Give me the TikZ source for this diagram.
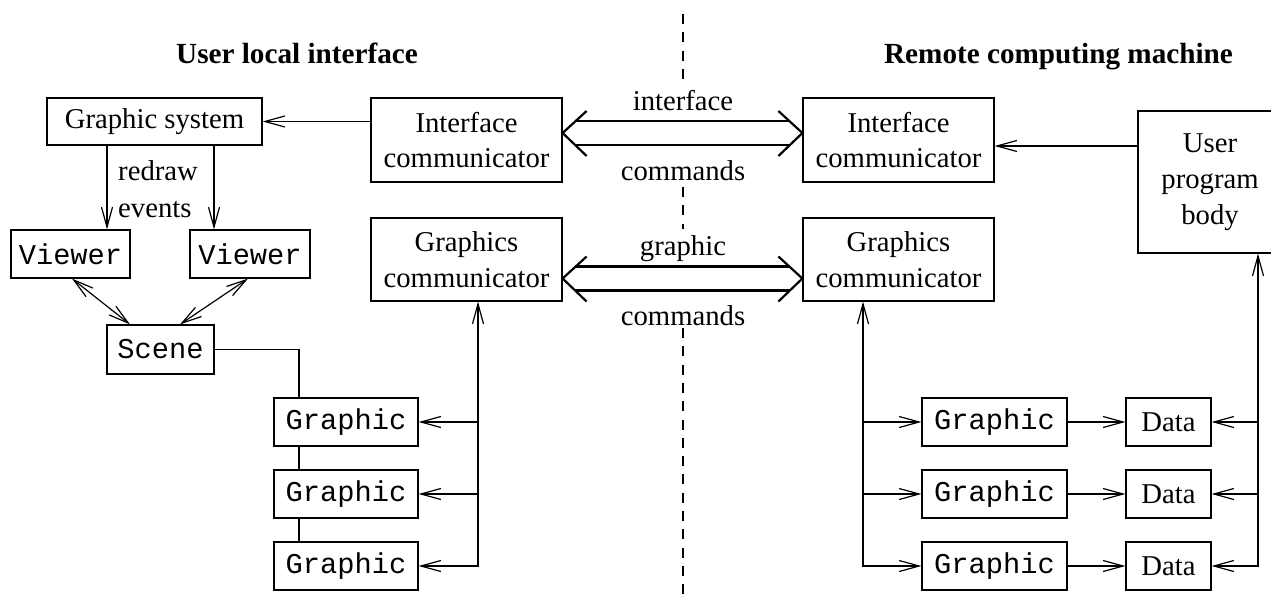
\documentclass[tikz,border=0pt]{standalone}
\usepackage{fontspec}
\setmainfont{Liberation Serif}
\setmonofont{Liberation Mono}
\usetikzlibrary{arrows.meta}
\begin{document}
\begin{tikzpicture}[x=1pt,y=-1pt,
  every node/.style={font=\fontsize{28.7pt}{35.7pt}\selectfont, inner sep=0pt},
  box/.style={draw, line width=1.2pt, align=center, minimum height=48pt},
  mono/.style={font=\fontsize{28.7pt}{35.7pt}\selectfont\ttfamily},
  ln/.style={line width=1.2pt},
  arr/.style={ln, -{Straight Barb[length=20pt,width=11pt]}},
  barr/.style={ln, {Straight Barb[length=20pt,width=11pt]}-{Straight Barb[length=20pt,width=11pt]}},
  dbl/.style={line width=2.2pt},
  sep/.style={line width=2pt, dash pattern=on 10pt off 8.3pt},
  lbl/.style={anchor=base},
  title/.style={anchor=base, font=\fontsize{29.2pt}{34pt}\selectfont\bfseries}
]
\useasboundingbox (0,0) rectangle (1271,597);

% titles
\node[title] (t1) at (297,63) {User local interface};
\node[title] (t2) at (1058.5,63) {Remote computing machine};

% separator
\coordinate (s0) at (683,14);
\coordinate (s1) at (683,84);
\coordinate (s2) at (683,187);
\coordinate (s3) at (683,229);
\coordinate (s4) at (683,328);
\coordinate (s5) at (683,597);
\draw[sep] (s0) -- (s1);
\draw[sep] (s2) -- (s3);
\draw[sep] (s4) -- (s5);

% boxes
\node[box, minimum width=215pt, minimum height=47pt] (gs) at (154.5,121.5) {\raisebox{-2pt}{Graphic system}};
\node[box, minimum width=191pt, minimum height=84pt] (ic1) at (466.5,140) {Interface\\communicator};
\node[box, minimum width=191pt, minimum height=83pt] (gc1) at (466.5,259.5) {Graphics\\communicator};
\node[box, minimum width=191pt, minimum height=84pt] (ic2) at (898.5,140) {Interface\\communicator};
\node[box, minimum width=191pt, minimum height=83pt] (gc2) at (898.5,259.5) {Graphics\\communicator};
\node[box, minimum width=144pt, minimum height=142pt] (upb) at (1210,182) {User\\program\\body};

\node[box, mono, minimum width=119pt] (v1) at (70.5,254) {Viewer};
\node[box, mono, minimum width=120pt] (v2) at (250,254) {Viewer};
\node[box, mono, minimum width=107pt, minimum height=49pt] (sc) at (160.5,349.5) {Scene};

\node[box, mono, minimum width=144pt] (gl1) at (346,422) {Graphic};
\node[box, mono, minimum width=144pt] (gl2) at (346,494) {Graphic};
\node[box, mono, minimum width=144pt] (gl3) at (346,566) {Graphic};

\node[box, mono, minimum width=145pt] (gr1) at (994.5,422) {Graphic};
\node[box, mono, minimum width=145pt] (gr2) at (994.5,494) {Graphic};
\node[box, mono, minimum width=145pt] (gr3) at (994.5,566) {Graphic};

\node[box, minimum width=85pt] (d1) at (1168.5,422) {Data};
\node[box, minimum width=85pt] (d2) at (1168.5,494) {Data};
\node[box, minimum width=85pt] (d3) at (1168.5,566) {Data};

% labels
\node[lbl] (li) at (683,110) {interface};
\node[lbl] (lc1) at (683,180) {commands};
\node[lbl] (lg) at (683,255) {graphic};
\node[lbl] (lc2) at (683,325) {commands};
\node[anchor=base west] (rd) at (118,180) {redraw};
\node[anchor=base west] (ev) at (118,217) {events};

% double arrows
\path ([yshift=7pt]ic1.east) coordinate (A1) ([yshift=7pt]ic2.west) coordinate (B1);
\path ([yshift=-19pt]gc1.east) coordinate (A2) ([yshift=-19pt]gc2.west) coordinate (B2);
\foreach \a/\b in {A1/B1, A2/B2}{
  \draw[dbl] ([shift={(24,-22)}]\a) -- (\a) -- ([shift={(24,23)}]\a);
  \draw[dbl] ([shift={(-24,-22)}]\b) -- (\b) -- ([shift={(-24,23)}]\b);
  \draw[dbl] ([shift={(12.5,-12)}]\a) -- ([shift={(-12.5,-12)}]\b);
  \draw[dbl] ([shift={(12.5,12)}]\a) -- ([shift={(-12.5,12)}]\b);
}

% left side connectors
\draw[arr] (ic1.west |- gs.east) -- (gs.east);
\coordinate (ax1) at (107,0);
\coordinate (ax2) at (214,0);
\draw[arr] (gs.south -| ax1) -- (v1.north -| ax1);
\draw[arr] (gs.south -| ax2) -- (v2.north -| ax2);
\draw[barr] ([xshift=1.5pt]v1.south) -- ([xshift=-30.5pt]sc.north);
\draw[barr] ([xshift=-2pt]v2.south) -- ([xshift=19.5pt]sc.north);
\draw[ln] (sc.east) -| ([xshift=-47pt]gl1.north);
\draw[ln] ([xshift=-47pt]gl1.south) -- ([xshift=-47pt]gl2.north);
\draw[ln] ([xshift=-47pt]gl2.south) -- ([xshift=-47pt]gl3.north);
\coordinate (bl) at (478,0);
\draw[barr] (gc1.south -| bl) -- (gl3.east -| bl) -- (gl3.east);
\draw[arr] (gl1.east -| bl) -- (gl1.east);
\draw[arr] (gl2.east -| bl) -- (gl2.east);

% right side connectors
\path ([yshift=36pt]upb.west) coordinate (u1);
\draw[arr] (u1) -- (u1 -| ic2.east);
\coordinate (br) at (863,0);
\draw[barr] (gc2.south -| br) -- (gr3.west -| br) -- (gr3.west);
\draw[arr] (gr1.west -| br) -- (gr1.west);
\draw[arr] (gr2.west -| br) -- (gr2.west);
\draw[arr] (gr1.east) -- (d1.west);
\draw[arr] (gr2.east) -- (d2.west);
\draw[arr] (gr3.east) -- (d3.west);
\coordinate (bu) at (1258,0);
\draw[barr] (upb.south -| bu) -- (d3.east -| bu) -- (d3.east);
\draw[arr] (d1.east -| bu) -- (d1.east);
\draw[arr] (d2.east -| bu) -- (d2.east);
\end{tikzpicture}
\end{document}
